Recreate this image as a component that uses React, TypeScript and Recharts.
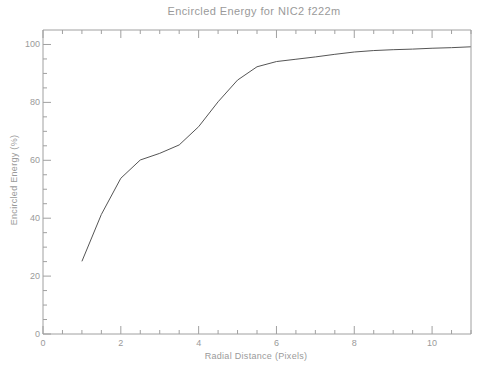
import React from 'react';
import { LineChart, Line, XAxis, YAxis } from 'recharts';

// radial distance (pixels) and encircled energy (%)
const radius = [1, 1.5, 2, 2.5, 3, 3.5, 4, 4.5, 5, 5.5, 6, 6.5, 7, 7.5, 8, 8.5, 9, 9.5, 10, 10.5, 11];
const energy = [25.1, 41.3, 53.8, 60.1, 62.4, 65.3, 71.6, 80.2, 87.7, 92.3, 94.1, 94.9, 95.7, 96.6, 97.4, 97.9, 98.2, 98.4, 98.7, 98.9, 99.2];

const xTicks = [0, 0.5, 1, 1.5, 2, 2.5, 3, 3.5, 4, 4.5, 5, 5.5, 6, 6.5, 7, 7.5, 8, 8.5, 9, 9.5, 10, 10.5, 11];
const xLabels = [0, 2, 4, 6, 8, 10];
const yTicks = [0, 5, 10, 15, 20, 25, 30, 35, 40, 45, 50, 55, 60, 65, 70, 75, 80, 85, 90, 95, 100];
const yLabels = [0, 20, 40, 60, 80, 100];

const data = radius.map((r, i) => ({ r, e: energy[i] }));

const AXIS = '#a0a0a0';
const TEXT = '#9a9a9a';
const FONT = 'Liberation Sans, Arial, sans-serif';

// IDL-style ticks point into the plot
const BottomTick = (props: any) => {
  const { x, y, payload } = props;
  const major = xLabels.includes(payload.value);
  return (
    <g>
      <line x1={x} y1={y} x2={x} y2={y - (major ? 8 : 4)} stroke={AXIS} />
      {major && (
        <text x={x} y={y + 12} textAnchor="middle" fontSize={9} fill={TEXT} fontFamily={FONT}>
          {payload.value}
        </text>
      )}
    </g>
  );
};

const TopTick = (props: any) => {
  const { x, y, payload } = props;
  const major = xLabels.includes(payload.value);
  return <line x1={x} y1={30} x2={x} y2={30 + (major ? 8 : 4)} stroke={AXIS} />;
};

const LeftTick = (props: any) => {
  const { x, y, payload } = props;
  const major = yLabels.includes(payload.value);
  return (
    <g>
      <line x1={x} y1={y} x2={x + (major ? 8 : 4)} y2={y} stroke={AXIS} />
      {major && (
        <text x={x - 3} y={y + 3} textAnchor="end" fontSize={9} fill={TEXT} fontFamily={FONT}>
          {payload.value}
        </text>
      )}
    </g>
  );
};

const RightTick = (props: any) => {
  const { x, y, payload } = props;
  const major = yLabels.includes(payload.value);
  return <line x1={471} y1={y} x2={471 - (major ? 8 : 4)} y2={y} stroke={AXIS} />;
};

export default function App() {
  return (
    <div style={{ position: 'absolute', left: 0, top: 0, width: 492, height: 367, background: '#fff' }}>
      <div
        style={{
          position: 'absolute', left: 0, width: 508, top: 5, textAlign: 'center',
          fontSize: 11, color: TEXT, fontFamily: FONT, letterSpacing: 0.4,
        }}
      >
        Encircled Energy for NIC2 f222m
      </div>
      <div
        style={{
          position: 'absolute', left: 0, width: 512, top: 351, textAlign: 'center',
          fontSize: 9, color: TEXT, fontFamily: FONT, letterSpacing: 0.3,
        }}
      >
        Radial Distance (Pixels)
      </div>
      <div
        style={{
          position: 'absolute', left: 14, top: 180, transform: 'translate(-50%, -50%) rotate(-90deg)',
          whiteSpace: 'nowrap', fontSize: 9, color: TEXT, fontFamily: FONT, letterSpacing: 0.3,
        }}
      >
        Encircled Energy (%)
      </div>
      <LineChart width={492} height={367} data={data} margin={{ top: 29, right: 20, bottom: 0, left: 0 }}>
        <XAxis
          xAxisId="b" dataKey="r" type="number" domain={[0, 11]} ticks={xTicks} interval={0}
          height={33} tickSize={0} tickMargin={0} tickLine={false} tick={<BottomTick />}
          axisLine={{ stroke: AXIS }}
        />
        <XAxis
          xAxisId="t" dataKey="r" type="number" domain={[0, 11]} ticks={xTicks} interval={0}
          orientation="top" height={1} tickSize={0} tickMargin={0} tickLine={false} tick={<TopTick />}
          axisLine={{ stroke: AXIS }}
        />
        <YAxis
          yAxisId="l" type="number" domain={[0, 105]} ticks={yTicks} interval={0}
          width={43} tickSize={0} tickMargin={0} tickLine={false} tick={<LeftTick />}
          axisLine={{ stroke: AXIS }}
        />
        <YAxis
          yAxisId="r" type="number" domain={[0, 105]} ticks={yTicks} interval={0}
          orientation="right" width={1} tickSize={0} tickMargin={0} tickLine={false} tick={<RightTick />}
          axisLine={{ stroke: AXIS }}
        />
        <Line
          xAxisId="b" yAxisId="l" dataKey="e" type="linear" stroke="#555" strokeWidth={1}
          dot={false} isAnimationActive={false}
        />
      </LineChart>
    </div>
  );
}
